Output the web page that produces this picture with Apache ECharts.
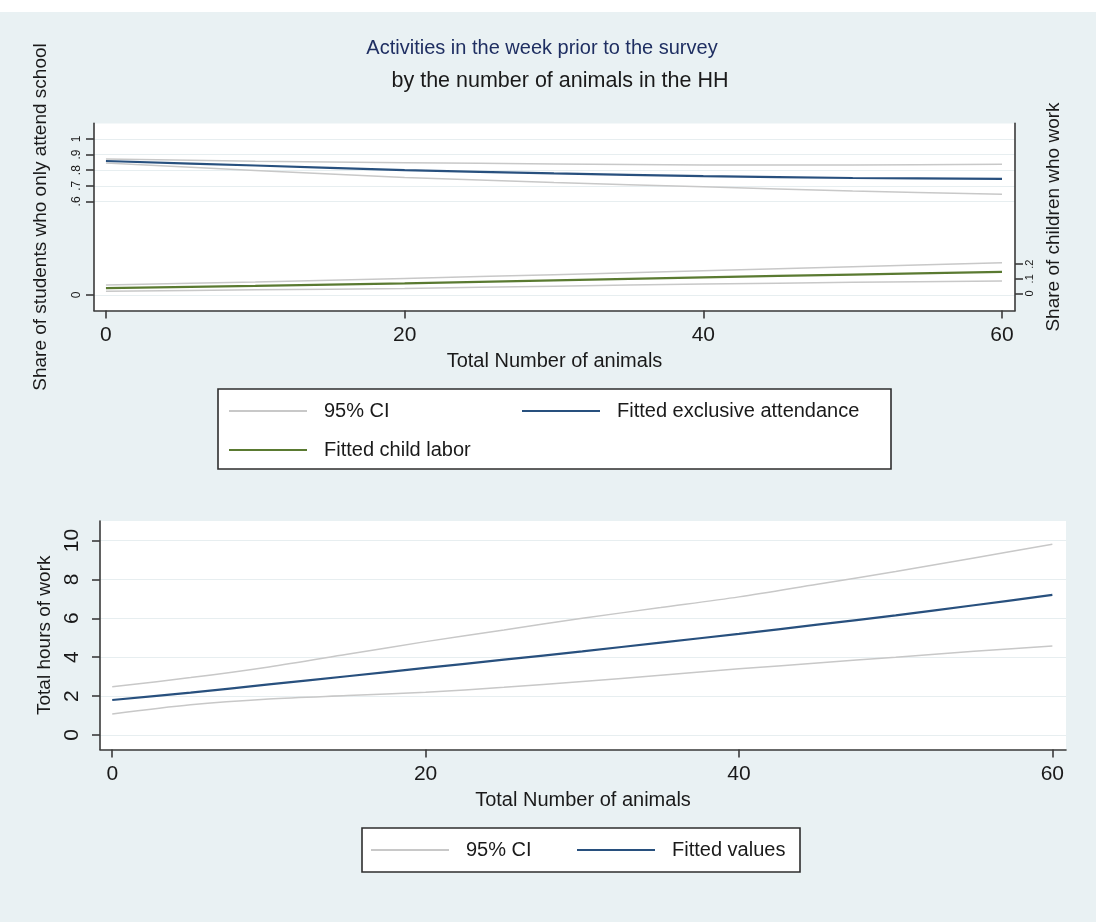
<!DOCTYPE html>
<html>
<head>
<meta charset="utf-8">
<title>Activities in the week prior to the survey</title>
<script src="https://cdn.jsdelivr.net/npm/echarts@6/dist/echarts.min.js"></script>
<style>
  html, body { margin: 0; padding: 0; background: #ffffff; }
  #chart { width: 1096px; height: 922px; }
</style>
</head>
<body>
<div id="chart"></div>
<script>
// ---- Upper panel: attendance and child labour by herd size ----
const animalsTop = [0, 10, 20, 30, 40, 50, 60];
const attendFit  = [0.859, 0.830, 0.801, 0.780, 0.762, 0.750, 0.744];
const attendHi   = [0.872, 0.858, 0.848, 0.840, 0.834, 0.833, 0.838];
const attendLo   = [0.846, 0.798, 0.754, 0.721, 0.694, 0.667, 0.646];
const laborFit   = [0.037, 0.052, 0.069, 0.089, 0.110, 0.129, 0.148];
const laborHi    = [0.058, 0.079, 0.103, 0.128, 0.155, 0.182, 0.210];
const laborLo    = [0.016, 0.025, 0.035, 0.050, 0.065, 0.076, 0.086];

// ---- Lower panel: weekly hours of work by herd size ----
const animalsBottom = [0, 5, 10, 15, 20, 25, 30, 35, 40, 45, 50, 55, 60];
const hoursFit = [1.80, 2.18, 2.60, 3.02, 3.45, 3.87, 4.30, 4.75, 5.20, 5.67, 6.15, 6.67, 7.20];
const hoursHi  = [2.48, 2.95, 3.50, 4.15, 4.80, 5.40, 6.00, 6.55, 7.10, 7.75, 8.40, 9.10, 9.80];
const hoursLo  = [1.08, 1.55, 1.85, 2.03, 2.20, 2.45, 2.75, 3.07, 3.40, 3.70, 4.00, 4.30, 4.58];

// ---- Tick labels ----
const xTicks        = [0, 20, 40, 60];
const attendTicks   = [0, 0.6, 0.7, 0.8, 0.9, 1];
const laborTicks    = [0, 0.1, 0.2];
const hoursTicks    = [0, 2, 4, 6, 8, 10];

const FONT  = "'Liberation Sans', Arial, Helvetica, sans-serif";
const CI    = '#c8c8c8';
const NAVY  = '#28507e';
const GREEN = '#5a7a31';
const AXIS  = '#3a3a3a';
const GRIDC = '#e7eef0';
const TEXT  = '#1a1a1a';

const pairs = (xs, ys) => xs.map((x, i) => [x, ys[i]]);
const stataNum = v => (v === 0 ? '0' : String(+v.toFixed(2)).replace(/^0\./, '.'));

function curve(name, xs, ys, color, width, xi, yi, z) {
  return {
    type: 'line', name, data: pairs(xs, ys),
    xAxisIndex: xi, yAxisIndex: yi,
    symbol: 'none', smooth: 0.3, silent: true, z,
    lineStyle: { color, width }, itemStyle: { color }
  };
}

function xAxisDef(gridIndex, min, max) {
  return {
    type: 'value', gridIndex, min, max,
    axisLine: { show: true, onZero: false, lineStyle: { color: AXIS, width: 1.6 } },
    axisTick: { show: true, customValues: xTicks, length: 8, lineStyle: { color: AXIS, width: 1.6 } },
    axisLabel: { customValues: xTicks, fontSize: 21, color: TEXT, margin: 14, fontFamily: FONT },
    splitLine: { show: false },
    name: 'Total Number of animals', nameLocation: 'middle', nameGap: 41,
    nameTextStyle: { fontSize: 20, color: TEXT, fontFamily: FONT }
  };
}

function yAxisDef(opts) {
  return {
    type: 'value', gridIndex: opts.grid, position: opts.position,
    min: opts.min, max: opts.max,
    axisLine: { show: true, onZero: false, lineStyle: { color: AXIS, width: 1.6 } },
    axisTick: { show: true, customValues: opts.ticks, length: 8, lineStyle: { color: AXIS, width: 1.6 } },
    axisLabel: {
      customValues: opts.ticks, rotate: 90, fontSize: opts.labelSize, color: TEXT,
      margin: opts.margin, fontFamily: FONT, formatter: stataNum
    },
    splitLine: { show: opts.grid_lines, lineStyle: { color: GRIDC, width: 1.2 } },
    name: opts.name, nameLocation: 'middle', nameGap: opts.nameGap, nameRotate: 90,
    nameTextStyle: { fontSize: 19, color: TEXT, fontFamily: FONT }
  };
}

// Line-only legend keys: the marker dot on each key is hidden.
const legendBase = {
  orient: 'horizontal', padding: 0, itemWidth: 78, itemHeight: 14,
  selectedMode: false,
  itemStyle: { opacity: 0 },
  textStyle: { fontSize: 20, color: TEXT, fontFamily: FONT, padding: [0, 0, 0, 12] }
};

const option = {
  animation: false,
  backgroundColor: '#e9f1f3',
  textStyle: { fontFamily: FONT },
  title: [
    {
      text: 'Activities in the week prior to the survey',
      left: 537, textAlign: 'center', top: 33,
      textStyle: { fontSize: 20, fontWeight: 'normal', color: '#1f2f62', fontFamily: FONT }
    },
    {
      text: 'by the number of animals in the HH',
      left: 555, textAlign: 'center', top: 65,
      textStyle: { fontSize: 21.5, fontWeight: 'normal', color: TEXT, fontFamily: FONT }
    }
  ],
  graphic: [
    { type: 'rect', shape: { x: 0, y: 0, width: 1096, height: 12 }, style: { fill: '#ffffff' }, silent: true },
    { type: 'rect', shape: { x: 218, y: 389, width: 673, height: 80 },
      style: { fill: '#ffffff', stroke: '#2e2e2e', lineWidth: 1.6 }, silent: true, z: 0 },
    { type: 'rect', shape: { x: 362, y: 828, width: 438, height: 44 },
      style: { fill: '#ffffff', stroke: '#2e2e2e', lineWidth: 1.6 }, silent: true, z: 0 }
  ],
  grid: [
    { left: 94, right: 81, top: 123.4, bottom: 611.4, show: true, backgroundColor: '#ffffff', borderWidth: 0 },
    { left: 100, right: 30, top: 521, bottom: 172.5, show: true, backgroundColor: '#ffffff', borderWidth: 0 }
  ],
  xAxis: [
    xAxisDef(0, -0.8, 60.87),
    xAxisDef(1, -0.78, 60.87)
  ],
  yAxis: [
    yAxisDef({ grid: 0, position: 'left', min: -0.1, max: 1.1, ticks: attendTicks, labelSize: 12,
               margin: 11, grid_lines: true, name: 'Share of students who only attend school', nameGap: 44 }),
    yAxisDef({ grid: 0, position: 'right', min: -0.116, max: 1.157, ticks: laborTicks, labelSize: 11,
               margin: 9, grid_lines: false, name: 'Share of children who work', nameGap: 29 }),
    yAxisDef({ grid: 1, position: 'left', min: -0.745, max: 11.0, ticks: hoursTicks, labelSize: 21,
               margin: 17, grid_lines: true, name: 'Total hours of work', nameGap: 33 })
  ],
  legend: [
    Object.assign({}, legendBase, { data: ['95% CI'], left: 228, top: 401 }),
    Object.assign({}, legendBase, { data: ['Fitted exclusive attendance'], left: 521, top: 401 }),
    Object.assign({}, legendBase, { data: ['Fitted child labor'], left: 228, top: 440 }),
    Object.assign({}, legendBase, { data: ['95% CI'], left: 370, top: 840 }),
    Object.assign({}, legendBase, { data: ['Fitted values'], left: 576, top: 840 })
  ],
  series: [
    curve('95% CI', animalsTop, attendHi, CI, 1.5, 0, 0, 2),
    curve('95% CI', animalsTop, attendLo, CI, 1.5, 0, 0, 2),
    curve('95% CI', animalsTop, laborHi, CI, 1.5, 0, 1, 2),
    curve('95% CI', animalsTop, laborLo, CI, 1.5, 0, 1, 2),
    curve('Fitted exclusive attendance', animalsTop, attendFit, NAVY, 2.2, 0, 0, 3),
    curve('Fitted child labor', animalsTop, laborFit, GREEN, 2.2, 0, 1, 3),
    curve('95% CI', animalsBottom, hoursHi, CI, 1.5, 1, 2, 2),
    curve('95% CI', animalsBottom, hoursLo, CI, 1.5, 1, 2, 2),
    curve('Fitted values', animalsBottom, hoursFit, NAVY, 2.2, 1, 2, 3)
  ]
};

const chart = echarts.init(document.getElementById('chart'), null, { renderer: 'canvas' });
chart.setOption(option);
</script>
</body>
</html>
